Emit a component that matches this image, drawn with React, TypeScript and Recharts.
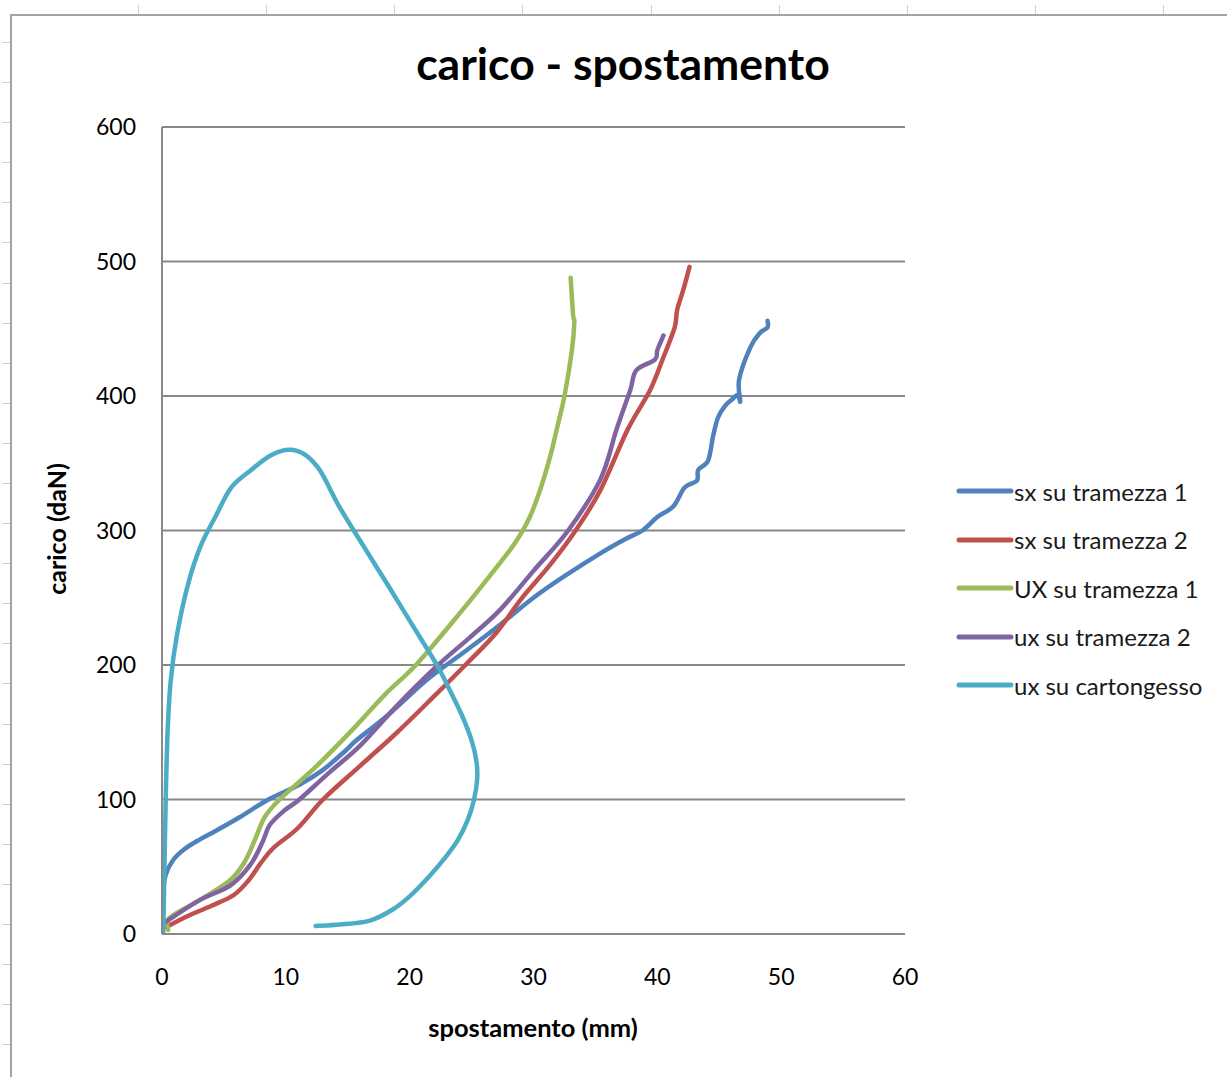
import React from 'react';
import { LineChart, Line, XAxis, YAxis, CartesianGrid } from 'recharts';

// ---- data (spostamento mm, carico daN) ----
const xTicks = [0, 10, 20, 30, 40, 50, 60];
const yTicks = [0, 100, 200, 300, 400, 500, 600];

const sx1X = [0.05, 0.3, 0.9, 1.8, 3, 4.4, 6.3, 8.6, 11.1, 13, 14.9, 15.7, 18.4, 21.4, 24.6, 27.3, 30, 32.5, 35.4, 37.5, 38.8, 40, 41.3, 42.2, 43.2, 43.3, 44.1, 44.5, 44.9, 45.5, 46.1, 46.5, 46.7, 46.6, 47.5, 48.3, 48.9, 48.9];
const sx1Y = [30, 44, 55, 63, 70, 77, 87, 100, 111, 122, 137, 144, 164, 189, 211, 230, 250, 266, 283, 294, 300, 310, 318, 332, 337, 345, 352, 370, 384, 393, 398, 401, 396, 412, 436, 447, 451, 456];

const sx2X = [0.3, 2, 4, 5.8, 7, 8, 9, 11, 13, 16, 19, 22, 24.5, 27, 29, 31.3, 33.4, 35.4, 37.6, 39.4, 40.5, 41.4, 41.6, 42.1, 42.6];
const sx2Y = [5, 13, 21, 29, 40, 53, 64, 79, 100, 125, 150, 177, 200, 224, 249, 274, 300, 330, 375, 404, 429, 451, 464, 479, 496];

const ux1X = [0.5, 0.6, 3, 5.5, 6.7, 7.5, 8.3, 9.5, 12.5, 15.6, 18, 20.6, 24, 27.3, 28.6, 29.7, 30.6, 31.4, 32, 32.5, 33.1, 33.3, 33.2, 33];
const ux1Y = [3, 12, 25, 40, 54, 70, 87, 100, 125, 154, 178, 201, 238, 276, 292, 310, 332, 357, 380, 400, 434, 455, 460, 488];

const ux2X = [0.3, 3, 5.5, 7.1, 8.1, 8.7, 9.9, 11.1, 13.5, 16, 19, 22.3, 24.8, 27.3, 30, 32.8, 35.4, 36.7, 37.8, 38.3, 39.8, 40, 40.5];
const ux2Y = [9, 25, 36, 51, 68, 81, 92, 100, 120, 140, 170, 200, 220, 241, 270, 300, 338, 375, 404, 419, 427, 434, 445];

const cartX = [12.4, 14.4, 16.8, 18.6, 20, 21.5, 22.8, 23.9, 24.7, 25.2, 25.45, 25.4, 25, 24.2, 23.2, 22.2, 20.2, 18.2, 16.3, 14.3, 12.8, 11.6, 10.3, 8.8, 7.2, 5.6, 4.3, 3.1, 2.1, 1.2, 0.7, 0.45, 0.3, 0.2, 0.1];
const cartY = [6, 7, 10, 18, 28, 42, 56, 70, 85, 100, 115, 128, 144, 163, 182, 200, 230, 260, 288, 318, 344, 356, 360, 356, 345, 332, 310, 288, 260, 222, 188, 150, 100, 50, 0];

const seriesNames = ['sx su tramezza 1', 'sx su tramezza 2', 'UX su tramezza 1', 'ux su tramezza 2', 'ux su cartongesso'];
const seriesColors = ['#4F81BD', '#C0504D', '#9BBB59', '#8064A2', '#4BACC6'];

const toPoints = (xs: number[], ys: number[]) => xs.map((x, i) => ({ x, y: ys[i] }));
const seriesData = [
  toPoints(sx1X, sx1Y),
  toPoints(sx2X, sx2Y),
  toPoints(ux1X, ux1Y),
  toPoints(ux2X, ux2Y),
  toPoints(cartX, cartY),
];

// Excel-like smoothing (Catmull-Rom through points)
const smoothCurve: any = (context: any) => {
  let pts: number[][] = [];
  return {
    areaStart() {},
    areaEnd() {},
    lineStart() { pts = []; },
    point(x: number, y: number) { pts.push([+x, +y]); },
    lineEnd() {
      const n = pts.length;
      if (!n) return;
      context.moveTo(pts[0][0], pts[0][1]);
      for (let i = 0; i < n - 1; i++) {
        const p0 = pts[Math.max(i - 1, 0)];
        const p1 = pts[i];
        const p2 = pts[i + 1];
        const p3 = pts[Math.min(i + 2, n - 1)];
        const c1x = p1[0] + (p2[0] - p0[0]) / 6;
        const c1y = p1[1] + (p2[1] - p0[1]) / 6;
        const c2x = p2[0] - (p3[0] - p1[0]) / 6;
        const c2y = p2[1] - (p3[1] - p1[1]) / 6;
        context.bezierCurveTo(c1x, c1y, c2x, c2y, p2[0], p2[1]);
      }
    },
  };
};

const FONT = 'Lato, "Open Sans", sans-serif';

const tickStyle = { fontFamily: FONT, fontSize: 23, fill: '#000' };

export default function App() {
  return (
    <div style={{ position: 'absolute', left: 0, top: 0, width: 1227, height: 1077, background: '#fff', overflow: 'hidden' }}>
      {/* spreadsheet cell marks */}
      {[137.7, 265.9, 394.1, 522.3, 650.5, 778.7, 906.9, 1035.1, 1163.3].map((x) => (
        <div key={'t' + x} style={{ position: 'absolute', left: Math.round(x), top: 5, width: 1, height: 9, background: '#c9d0e3' }} />
      ))}
      {Array.from({ length: 26 }, (_, k) => 42 + k * 40.09).map((y) => (
        <div key={'l' + y} style={{ position: 'absolute', left: 2, top: Math.round(y), width: 8, height: 1, background: '#c9d0e3' }} />
      ))}
      {/* chart area border */}
      <div style={{ position: 'absolute', left: 10, top: 14, width: 1240, height: 1061, border: '2px solid #a3a3a3', boxSizing: 'content-box' }} />

      <div style={{ position: 'absolute', left: 0, top: 0 }}>
        <LineChart width={1227} height={1077} margin={{ top: 127, right: 322, bottom: 0, left: 0 }}>
          <CartesianGrid vertical={false} stroke="#888" strokeWidth={2} horizontalValues={yTicks} />
          <XAxis
            type="number"
            dataKey="x"
            domain={[0, 60]}
            ticks={xTicks}
            height={143}
            allowDataOverflow
            tickLine={false}
            tickSize={0}
            tickMargin={35}
            axisLine={{ stroke: '#888', strokeWidth: 2 }}
            tick={tickStyle}
          />
          <YAxis
            type="number"
            dataKey="y"
            domain={[0, 600]}
            ticks={yTicks}
            width={162}
            allowDataOverflow
            tickLine={false}
            tickSize={0}
            tickMargin={26}
            axisLine={{ stroke: '#888', strokeWidth: 2 }}
            tick={tickStyle}
          />
          {seriesNames.map((name, i) => (
            <Line
              key={name}
              name={name}
              data={seriesData[i]}
              dataKey="y"
              type={smoothCurve}
              stroke={seriesColors[i]}
              strokeWidth={4.5}
              strokeLinecap="round"
              strokeLinejoin="round"
              dot={false}
              activeDot={false}
              isAnimationActive={false}
            />
          ))}
        </LineChart>
      </div>

      {/* legend */}
      <div style={{ position: 'absolute', left: 954, top: 467, fontFamily: FONT, fontSize: 24, color: '#1a1a1a' }}>
        {seriesNames.map((name, i) => (
          <div key={name} style={{ height: 48.5, display: 'flex', alignItems: 'center', whiteSpace: 'nowrap' }}>
            <svg width={60} height={10} style={{ display: 'block' }}>
              <line x1={5} y1={5} x2={57} y2={5} stroke={seriesColors[i]} strokeWidth={5} strokeLinecap="round" />
            </svg>
            <span>{name}</span>
          </div>
        ))}
      </div>

      <svg width={1227} height={1077} style={{ position: 'absolute', left: 0, top: 0, pointerEvents: 'none' }}>
        <text x={623} y={80} textAnchor="middle" fontFamily={FONT} fontWeight="bold" fontSize={44.5} fill="#000">
          carico - spostamento
        </text>
        <text x={533} y={1037} textAnchor="middle" fontFamily={FONT} fontWeight="bold" fontSize={25.5} fill="#000">
          spostamento (mm)
        </text>
        <text x={66} y={529} textAnchor="middle" transform="rotate(-90 66 529)" fontFamily={FONT} fontWeight="bold" fontSize={25} fill="#000">
          carico (daN)
        </text>
      </svg>
    </div>
  );
}
